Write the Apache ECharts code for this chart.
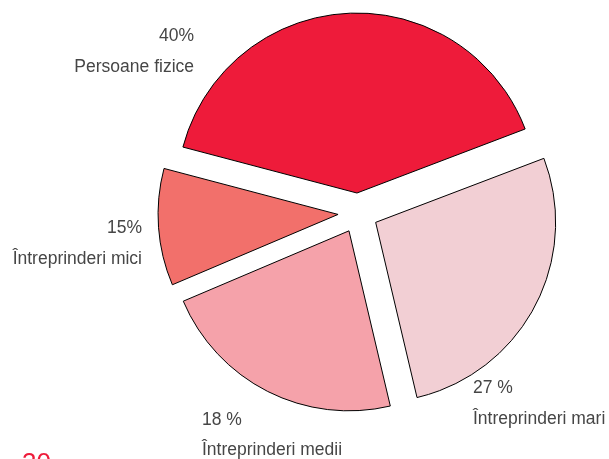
<!DOCTYPE html>
<html>
<head>
<meta charset="utf-8">
<script src="https://cdn.jsdelivr.net/npm/echarts@6/dist/echarts.min.js"></script>
<style>
html,body{margin:0;padding:0;background:#fff;}
#chart{width:609px;height:459px;}
</style>
</head>
<body>
<div id="chart"></div>
<script>
// Data (slice shares as drawn in the picture; printed labels as printed)
const categories = ['Persoane fizice', 'Întreprinderi mari', 'Întreprinderi medii', 'Întreprinderi mici'];
const values = [40.1, 27.1, 22.3, 10.5];
const pctLabels = ['40%', '27 %', '18 %', '15%'];
const pageNumber = '30';

// Styling / layout (kept separate from the data)
const colors = ['#EE1B3A', '#F2CFD4', '#F5A2AA', '#F2706B'];
const labelPos = [
  {x: 194, yP: 36, yN: 67, align: 'right'},
  {x: 473, yP: 388, yN: 419, align: 'left'},
  {x: 202, yP: 420, yN: 450, align: 'left'},
  {x: 142, yP: 228, yN: 259, align: 'right'}
];
const FONT = 'Liberation Sans, Arial, sans-serif';
const TEXT_COLOR = '#464646';
const FONT_SIZE = 17.5;

const chart = echarts.init(document.getElementById('chart'), null, {renderer: 'canvas'});

const seriesData = categories.map((name, i) => ({
  name: name,
  value: values[i],
  selected: true,
  itemStyle: {color: colors[i]}
}));

const labelGraphics = [];
categories.forEach((name, i) => {
  const p = labelPos[i];
  labelGraphics.push({
    type: 'text', x: p.x, y: p.yP,
    style: {text: pctLabels[i], fill: TEXT_COLOR, fontSize: FONT_SIZE, fontFamily: FONT,
            textAlign: p.align, textVerticalAlign: 'middle'}
  });
  labelGraphics.push({
    type: 'text', x: p.x, y: p.yN,
    style: {text: name, fill: TEXT_COLOR, fontSize: FONT_SIZE, fontFamily: FONT,
            textAlign: p.align, textVerticalAlign: 'middle'}
  });
});
labelGraphics.push({
  type: 'text', x: 22, y: 451,
  style: {text: pageNumber, fill: '#EE1B3A', fontSize: 26, fontFamily: FONT,
          textAlign: 'left', textVerticalAlign: 'top'}
});

chart.setOption({
  animation: false,
  backgroundColor: '#ffffff',
  series: [{
    type: 'pie',
    center: [358, 213],
    radius: [0, 180],
    startAngle: 165.2,
    clockwise: true,
    selectedMode: 'multiple',
    selectedOffset: 20,
    avoidLabelOverlap: false,
    emphasis: {disabled: true},
    itemStyle: {borderColor: '#000', borderWidth: 1},
    labelLine: {show: false},
    label: {show: false},
    data: seriesData
  }],
  graphic: labelGraphics
});
</script>
</body>
</html>
